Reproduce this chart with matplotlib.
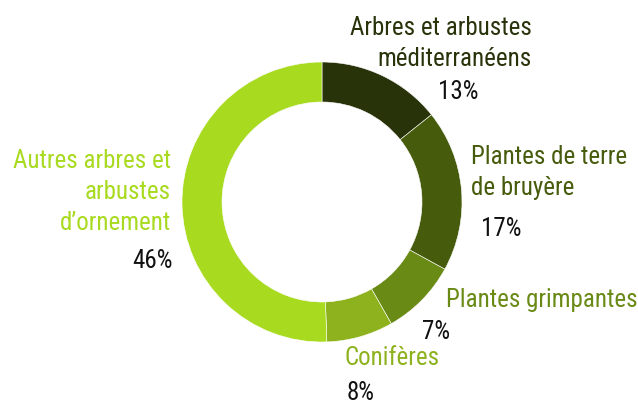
import matplotlib.pyplot as plt

# Data
categories = [
    "Arbres et arbustes\nméditerranéens",
    "Plantes de terre\nde bruyère",
    "Plantes grimpantes",
    "Conifères",
    "Autres arbres et\narbustes\nd’ornement",
]
slice_values = [13, 17, 8, 7, 46]          # slice sizes as drawn
pct_labels = ["13%", "17%", "7%", "8%", "46%"]  # percentages as printed
colors = ["#28330a", "#465b0c", "#6a8a16", "#8db21e", "#a8da1f"]

# Layout (figure pixels, y measured from top)
W, H = 638, 402
center = (322, 203)
r_out, ring = 140, 40
# name block: (x, first baseline, ha) ; pct: (x, baseline, ha)
name_pos = [(532, 35, "right"), (471, 164, "left"), (446, 307, "left"),
            (345, 365, "left"), (171, 168, "right")]
pct_pos = [(458, 99, "center"), (481, 236, "left"), (422, 339, "left"),
           (347, 400, "left"), (173, 268, "right")]
line_step = 31

plt.rcParams['font.family'] = ['Roboto Condensed', 'PT Sans Narrow', 'DejaVu Sans']

fig = plt.figure(figsize=(W / 100, H / 100), dpi=100)
ax = fig.add_axes([0, 0, 1, 1])

ax.pie(slice_values, colors=colors, startangle=90, counterclock=False,
       radius=r_out, center=(center[0], H - center[1]),
       wedgeprops=dict(width=ring, edgecolor="white", linewidth=0.4))

ax.set_xlim(0, W)
ax.set_ylim(0, H)
ax.set_aspect("equal")
ax.axis("off")

fs = 18
for name, col, (x, y, ha) in zip(categories, colors, name_pos):
    for i, line in enumerate(name.split("\n")):
        ax.text(x, H - (y + i * line_step), line, color=col, fontsize=fs,
                ha=ha, va="baseline")

for pct, (x, y, ha) in zip(pct_labels, pct_pos):
    ax.text(x, H - y, pct, color="#111111", fontsize=fs, ha=ha, va="baseline")

fig.savefig("out.png", dpi=100)
